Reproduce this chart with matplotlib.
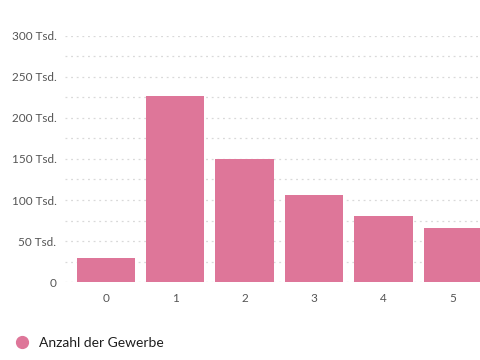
import matplotlib
matplotlib.use("Agg")
import matplotlib.pyplot as plt
from matplotlib.ticker import MultipleLocator, FuncFormatter
from matplotlib.lines import Line2D

plt.rcParams['font.family'] = ['Lato', 'DejaVu Sans']

# data
categories = ["0", "1", "2", "3", "4", "5"]
gewerbe = [29200, 226600, 149600, 105800, 80300, 66400]
series_name = "Anzahl der Gewerbe"

bar_color = "#de7699"
grid_color = "#d9d9d9"
label_color = "#555555"

fig = plt.figure(figsize=(4.8, 3.6), dpi=100)
ax = fig.add_axes([0.135, 0.216, 0.865, 0.685])

x = range(len(categories))
ax.bar(x, gewerbe, width=0.84, color=bar_color, zorder=3)

ax.set_xlim(-0.59, 5.39)
ax.set_ylim(0, 300000)
ax.set_xticks(list(x))
ax.set_xticklabels(categories)

ax.yaxis.set_major_locator(MultipleLocator(50000))
ax.yaxis.set_minor_locator(MultipleLocator(25000))


def tsd(v, pos):
    if v == 0:
        return "0"
    return "%d Tsd." % round(v / 1000)


ax.yaxis.set_major_formatter(FuncFormatter(tsd))

ax.grid(axis="y", which="both", color=grid_color, linestyle=(0, (1.5, 3)),
        linewidth=0.9, zorder=0)
for s in ax.spines.values():
    s.set_visible(False)
ax.tick_params(axis="both", which="both", length=0, labelsize=8.5,
               labelcolor=label_color)
ax.tick_params(axis="y", pad=6)
ax.tick_params(axis="x", pad=8)

# legend below plot
handle = Line2D([], [], marker="o", linestyle="none", markersize=8.5,
                markerfacecolor=bar_color, markeredgecolor=bar_color)
fig.legend([handle], [series_name], loc="lower left",
           bbox_to_anchor=(0.032, 0.03), frameon=False, fontsize=10,
           handlelength=1.0, handletextpad=0.7, borderpad=0,
           borderaxespad=0, labelcolor="#1e1e1e")

fig.savefig("out.png", dpi=100)
